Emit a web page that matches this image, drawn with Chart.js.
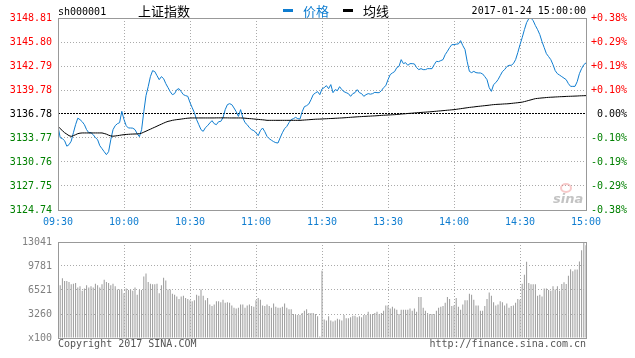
<!DOCTYPE html>
<html>
<head>
<meta charset="utf-8">
<script src="https://cdn.jsdelivr.net/npm/chart.js@4/dist/chart.umd.min.js"></script>
<style>
  body { margin: 0; background: #fff; }
  #wrap { position: relative; width: 635px; height: 358px; }
  #priceChart { position: absolute; left: 0; top: 0; }
  #volChart { position: absolute; left: 0; top: 230px; }
</style>
</head>
<body>
<div id="wrap">
  <canvas id="priceChart" width="635" height="230"></canvas>
  <canvas id="volChart" width="635" height="128"></canvas>
</div>
<script>
// ---- chart data (one value per minute, 09:30 .. 11:30, 13:01 .. 15:00) ----
const symbol = 'sh000001';
const indexName = '上证指数';
const stamp = '2017-01-24 15:00:00';
const prevClose = 3136.78;

const xTickIndex = [0, 30, 60, 90, 120, 150, 180, 210, 240];
const xTickLabels = ['09:30', '10:00', '10:30', '11:00', '11:30', '13:30', '14:00', '14:30', '15:00'];
const priceTicks = [3124.74, 3127.75, 3130.76, 3133.77, 3136.78, 3139.78, 3142.79, 3145.80, 3148.81];
const pctTicks = ['-0.38%', '-0.29%', '-0.19%', '-0.10%', '0.00%', '+0.10%', '+0.19%', '+0.29%', '+0.38%'];
const volTicks = [0, 3260, 6521, 9781, 13041];
const volTickLabels = ['x100', '3260', '6521', '9781', '13041'];

const price = [
  3135.22, 3133.81, 3133.68, 3133.43, 3132.74, 3132.93, 3133.37, 3134.43, 3135.44, 3136.25,
  3136.07, 3135.81, 3135.44, 3134.81, 3134.43, 3134.43, 3134.18, 3133.81, 3133.56, 3132.80,
  3132.43, 3132.05, 3131.68, 3132.05, 3133.56, 3134.81, 3135.31, 3135.56, 3135.69, 3137.11,
  3136.07, 3135.31, 3135.02, 3135.02, 3135.00, 3134.81, 3134.31, 3133.93, 3134.81, 3137.07,
  3139.08, 3140.20, 3141.46, 3142.21, 3142.09, 3141.58, 3141.08, 3141.46, 3141.21, 3140.58,
  3140.08, 3139.58, 3139.20, 3139.33, 3139.83, 3139.95, 3139.58, 3139.20, 3139.08, 3138.99,
  3138.20, 3137.57, 3136.94, 3136.07, 3135.44, 3134.81, 3134.60, 3135.06, 3135.31, 3135.65,
  3135.94, 3135.56, 3135.44, 3135.81, 3135.85, 3136.32, 3137.32, 3137.95, 3138.07, 3137.95,
  3137.53, 3137.07, 3136.48, 3137.32, 3136.32, 3135.69, 3135.44, 3135.06, 3134.81, 3134.69,
  3134.43, 3134.06, 3134.69, 3135.02, 3134.56, 3133.97, 3133.68, 3133.49, 3133.31, 3133.18,
  3133.14, 3133.81, 3134.43, 3134.94, 3135.22, 3135.69, 3136.07, 3136.19, 3136.35, 3136.19,
  3136.15, 3137.07, 3137.70, 3137.82, 3138.03, 3138.57, 3139.20, 3139.41, 3139.58, 3139.20,
  3139.92,
  3140.08, 3140.33, 3139.95, 3140.46, 3139.45, 3139.83, 3139.70, 3140.20, 3139.83, 3139.58,
  3139.45, 3139.33, 3138.99, 3139.33, 3139.45, 3139.83, 3139.45, 3139.33, 3138.99, 3139.20,
  3139.33, 3139.26, 3139.33, 3139.49, 3139.45, 3139.45, 3139.70, 3140.08, 3140.33, 3141.08,
  3141.71, 3141.92, 3142.09, 3142.59, 3142.75, 3143.59, 3143.09, 3143.21, 3142.88, 3143.09,
  3143.09, 3143.05, 3142.59, 3142.34, 3142.46, 3142.34, 3142.34, 3142.46, 3142.46, 3142.46,
  3142.96, 3143.38, 3143.34, 3143.47, 3143.59, 3144.22, 3144.63, 3145.10, 3145.47, 3145.47,
  3145.53, 3145.56, 3145.97, 3145.35, 3144.85, 3143.34, 3142.12, 3141.96, 3142.12, 3141.96,
  3141.92, 3141.92, 3141.80, 3141.46, 3141.08, 3140.08, 3139.61, 3140.46, 3140.71, 3141.08,
  3141.58, 3142.09, 3142.34, 3142.71, 3142.88, 3142.88, 3143.09, 3143.59, 3144.47, 3145.47,
  3146.35, 3147.35, 3148.23, 3148.73, 3148.81, 3148.47, 3147.86, 3147.35, 3146.73, 3145.85,
  3145.10, 3144.34, 3143.97, 3143.59, 3142.96, 3142.21, 3141.83, 3141.65, 3141.46, 3141.27,
  3141.08, 3140.58, 3140.24, 3140.24, 3140.24, 3140.83, 3141.83, 3142.46, 3142.96, 3143.18
];

const avgPrice = [
  3135.22, 3134.94, 3134.69, 3134.43, 3134.25, 3134.06, 3133.97, 3134.06, 3134.18, 3134.31,
  3134.37, 3134.40, 3134.40, 3134.40, 3134.40, 3134.40, 3134.40, 3134.40, 3134.40, 3134.40,
  3134.40, 3134.33, 3134.25, 3134.12, 3134.03, 3133.99, 3134.02, 3134.06, 3134.10, 3134.15,
  3134.18, 3134.21, 3134.23, 3134.25, 3134.26, 3134.27, 3134.28, 3134.31, 3134.37, 3134.50,
  3134.62, 3134.75, 3134.87, 3135.00, 3135.12, 3135.25, 3135.38, 3135.50, 3135.63, 3135.75,
  3135.85, 3135.91, 3135.98, 3136.03, 3136.07, 3136.10, 3136.14, 3136.18, 3136.22, 3136.25,
  3136.27, 3136.28, 3136.28, 3136.28, 3136.28, 3136.28, 3136.28, 3136.28, 3136.28, 3136.28,
  3136.28, 3136.28, 3136.29, 3136.29, 3136.29, 3136.29, 3136.29, 3136.29, 3136.28, 3136.28,
  3136.28, 3136.28, 3136.28, 3136.28, 3136.27, 3136.25, 3136.22, 3136.20, 3136.18, 3136.15,
  3136.12, 3136.10, 3136.07, 3136.05, 3136.02, 3135.98, 3135.98, 3135.98, 3135.98, 3135.98,
  3135.98, 3135.98, 3135.98, 3135.98, 3135.98, 3135.98, 3135.98, 3135.98, 3135.98, 3135.98,
  3135.98, 3136.00, 3136.02, 3136.04, 3136.06, 3136.08, 3136.10, 3136.12, 3136.13, 3136.14,
  3136.15,
  3136.17, 3136.18, 3136.20, 3136.21, 3136.22, 3136.24, 3136.25, 3136.27, 3136.28, 3136.30,
  3136.32, 3136.34, 3136.36, 3136.38, 3136.40, 3136.42, 3136.44, 3136.45, 3136.47, 3136.48,
  3136.50, 3136.51, 3136.53, 3136.54, 3136.56, 3136.58, 3136.60, 3136.62, 3136.63, 3136.65,
  3136.66, 3136.68, 3136.69, 3136.72, 3136.74, 3136.77, 3136.79, 3136.81, 3136.84, 3136.86,
  3136.88, 3136.91, 3136.93, 3136.95, 3136.97, 3136.99, 3137.01, 3137.03, 3137.05, 3137.07,
  3137.10, 3137.12, 3137.15, 3137.17, 3137.20, 3137.22, 3137.25, 3137.27, 3137.30, 3137.32,
  3137.36, 3137.40, 3137.44, 3137.48, 3137.52, 3137.56, 3137.60, 3137.63, 3137.66, 3137.70,
  3137.73, 3137.76, 3137.79, 3137.82, 3137.85, 3137.88, 3137.92, 3137.95, 3137.97, 3137.99,
  3138.00, 3138.02, 3138.04, 3138.05, 3138.07, 3138.10, 3138.13, 3138.16, 3138.19, 3138.23,
  3138.26, 3138.33, 3138.40, 3138.48, 3138.55, 3138.63, 3138.70, 3138.73, 3138.76, 3138.79,
  3138.81, 3138.84, 3138.86, 3138.88, 3138.89, 3138.91, 3138.92, 3138.94, 3138.95, 3138.96,
  3138.98, 3138.99, 3139.00, 3139.01, 3139.02, 3139.03, 3139.05, 3139.06, 3139.07, 3139.08
];

// volume in lots of 100
const volume = [
  12167, 7168, 8125, 7733, 7733, 7603, 7299, 7385, 7473, 6864,
  7038, 6429, 6733, 7168, 6864, 7038, 6864, 7385, 7168, 6864,
  7299, 7907, 7603, 7473, 7168, 7385, 7038, 6603, 6603, 6603,
  6081, 6733, 6516, 6603, 6429, 6864, 5864, 6516, 6516, 8342,
  8777, 7603, 7385, 7299, 7299, 7385, 6081, 7168, 8168, 7820,
  6603, 6603, 5995, 5864, 5647, 5299, 5647, 5734, 5429, 5299,
  5125, 4995, 5125, 5864, 5734, 6603, 5734, 5125, 5429, 4560,
  4343, 4560, 4995, 4995, 4864, 5212, 4777, 4864, 4777, 4430,
  4125, 3995, 4125, 4560, 4560, 4125, 4430, 4560, 4343, 4256,
  5125, 5429, 5212, 4430, 4343, 4560, 4343, 4125, 4691, 4256,
  4125, 4125, 4256, 4691, 4125, 3908, 3908, 3256, 3126, 3126,
  3126, 3386, 3691, 3908, 3386, 3386, 3386, 3256, 2952, 213,
  9125,
  2517, 2387, 2952, 2387, 2256, 2387, 2604, 2517, 2387, 3126,
  2690, 2690, 2821, 3039, 3039, 2821, 2952, 2821, 3126, 3126,
  3560, 3256, 3256, 3386, 3560, 3256, 3386, 3691, 4430, 4430,
  3995, 4256, 3995, 3821, 3256, 3821, 3821, 3821, 3821, 3995,
  3691, 3995, 3560, 5560, 5560, 4125, 3691, 3386, 3256, 3256,
  3256, 3691, 4125, 4256, 4343, 4777, 5560, 5299, 4343, 4430,
  5429, 4256, 3821, 4560, 5125, 5125, 5995, 5864, 5212, 4430,
  4430, 3691, 3691, 4343, 5299, 6168, 5734, 4864, 4430, 4560,
  4995, 4864, 4430, 4691, 4125, 4343, 4430, 4777, 5299, 5212,
  7385, 8603, 10342, 7473, 7299, 7299, 7299, 5734, 5864, 5647,
  6733, 6733, 6516, 6429, 7038, 6603, 7038, 6429, 7340, 7560,
  7340, 8473, 9341, 9075, 9300, 9300, 10380, 11906, 13041, 12600
];

const BLUE = '#0f7dd0';
const GRID = '#aaaaaa';
const FRAME = '#999999';

Chart.defaults.font.family = '"DejaVu Sans Mono", monospace';
Chart.defaults.font.size = 10;

const xy = arr => arr.map((v, i) => ({ x: i, y: v }));
const levelColor = v => v > prevClose ? '#ff0000' : (v < prevClose ? '#008000' : '#000000');
const setTicks = values => scale => { scale.ticks = values.map(v => ({ value: v })); };

// gray box round the plot area
const framePlugin = {
  id: 'frame',
  afterDraw(chart) {
    const { ctx, chartArea: a } = chart;
    ctx.save();
    ctx.strokeStyle = FRAME;
    ctx.lineWidth = 1;
    ctx.strokeRect(a.left + 0.5, a.top + 0.5, a.right - a.left, a.bottom - a.top);
    ctx.restore();
  }
};

// title row, legend and the sina mark
const headerPlugin = {
  id: 'header',
  beforeDatasetsDraw(chart) {
    const { ctx } = chart;
    ctx.save();
    ctx.font = 'italic bold 13px "DejaVu Sans"';
    ctx.fillStyle = 'rgba(170,170,170,0.7)';
    ctx.textAlign = 'left';
    ctx.fillText('sina', 553, 203);
    ctx.strokeStyle = 'rgba(235,120,120,0.4)';
    ctx.lineWidth = 2;
    ctx.beginPath();
    ctx.ellipse(566, 188, 5, 4, 0, 0, Math.PI * 2);
    ctx.stroke();
    ctx.restore();
  },
  afterDraw(chart) {
    const { ctx } = chart;
    const sets = chart.data.datasets;
    ctx.save();
    ctx.textBaseline = 'alphabetic';
    ctx.fillStyle = '#000';
    ctx.font = '10px "DejaVu Sans Mono"';
    ctx.fillText(symbol, 58, 15);
    ctx.textAlign = 'right';
    ctx.fillText(stamp, 586, 14);
    ctx.textAlign = 'left';
    ctx.font = '13px "Noto Sans CJK SC"';
    ctx.fillText(indexName, 138, 16);
    // legend: price first, then average
    const items = [[sets[1], 283], [sets[0], 343]];
    items.forEach(([ds, x]) => {
      ctx.fillStyle = ds.borderColor;
      ctx.fillRect(x, 9, 10, 3);
      ctx.fillText(ds.label, x + 20, 16);
    });
    ctx.restore();
  }
};

const footerPlugin = {
  id: 'footer',
  afterDraw(chart) {
    const { ctx } = chart;
    ctx.save();
    ctx.font = '10px "DejaVu Sans Mono"';
    ctx.fillStyle = '#555';
    ctx.textAlign = 'left';
    ctx.fillText('Copyright 2017 SINA.COM', 58, 117);
    ctx.textAlign = 'right';
    ctx.fillText('http://finance.sina.com.cn', 586, 117);
    ctx.restore();
  }
};

new Chart(document.getElementById('priceChart'), {
  type: 'line',
  data: {
    datasets: [
      { label: '均线', data: xy(avgPrice), borderColor: '#000000', borderWidth: 1, pointRadius: 0 },
      { label: '价格', data: xy(price), borderColor: BLUE, borderWidth: 1, pointRadius: 0 }
    ]
  },
  options: {
    responsive: false,
    animation: false,
    events: [],
    layout: { padding: { top: 18, right: 8, left: 0, bottom: 0 } },
    plugins: { legend: { display: false }, tooltip: { enabled: false } },
    scales: {
      x: {
        type: 'linear', min: 0, max: 240,
        afterBuildTicks: setTicks(xTickIndex),
        afterFit: s => { s.height = 20; },
        ticks: { callback: (v, i) => xTickLabels[i], color: BLUE, padding: 6, maxRotation: 0, autoSkip: false },
        grid: { color: GRID, drawTicks: false },
        border: { display: false, dash: [1, 2] }
      },
      y: {
        position: 'left', min: priceTicks[0], max: priceTicks[priceTicks.length - 1],
        afterBuildTicks: setTicks(priceTicks),
        afterFit: s => { s.width = 58; },
        ticks: { callback: v => v.toFixed(2), color: c => levelColor(c.tick.value), padding: 6 },
        grid: {
          color: c => (c.tick && c.tick.value === prevClose) ? '#000000' : GRID,
          drawTicks: false
        },
        border: {
          display: false,
          dash: c => (c.tick && c.tick.value === prevClose) ? [2, 1] : [1, 2]
        }
      },
      y2: {
        position: 'right', min: priceTicks[0], max: priceTicks[priceTicks.length - 1],
        afterBuildTicks: setTicks(priceTicks),
        afterFit: s => { s.width = 41; },
        ticks: { callback: (v, i) => pctTicks[i], color: c => levelColor(c.tick.value), padding: 6, crossAlign: 'far' },
        grid: { drawOnChartArea: false, drawTicks: false },
        border: { display: false }
      }
    }
  },
  plugins: [framePlugin, headerPlugin]
});

new Chart(document.getElementById('volChart'), {
  type: 'bar',
  data: {
    datasets: [{
      label: '成交量', data: xy(volume), backgroundColor: '#9a9a9a',
      barThickness: 1, borderWidth: 0, inflateAmount: 0
    }]
  },
  options: {
    responsive: false,
    animation: false,
    events: [],
    layout: { padding: { top: 8, right: 49, left: 0, bottom: 20 } },
    plugins: { legend: { display: false }, tooltip: { enabled: false } },
    scales: {
      x: {
        type: 'linear', min: 0, max: 240, offset: false,
        afterBuildTicks: setTicks(xTickIndex),
        ticks: { display: false },
        grid: { color: GRID, drawTicks: false, offset: false, z: 1 },
        border: { display: false, dash: [1, 2] }
      },
      y: {
        min: 0, max: volTicks[volTicks.length - 1],
        afterBuildTicks: setTicks(volTicks),
        afterFit: s => { s.width = 58; },
        ticks: { callback: (v, i) => volTickLabels[i], color: '#808080', padding: 6 },
        grid: { color: GRID, drawTicks: false, z: 1 },
        border: { display: false, dash: [1, 2] }
      }
    }
  },
  plugins: [framePlugin, footerPlugin]
});
</script>
</body>
</html>
